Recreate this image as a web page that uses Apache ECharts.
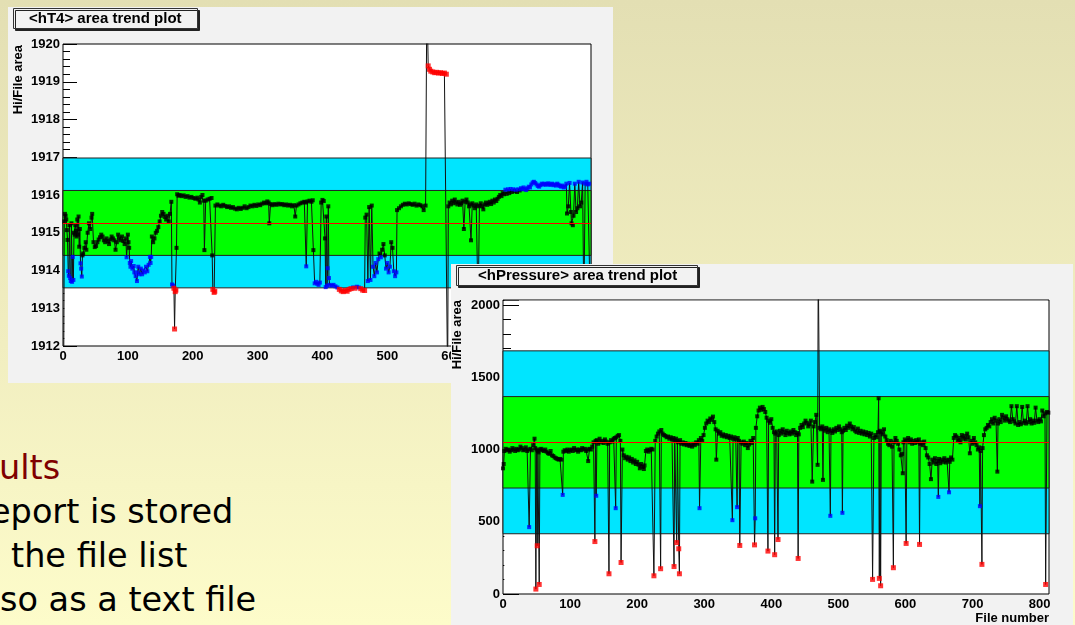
<!DOCTYPE html>
<html><head><meta charset="utf-8">
<script src="https://cdn.jsdelivr.net/npm/echarts@6.0.0/dist/echarts.min.js"></script>
<style>
html,body{margin:0;padding:0;}
#slide{position:relative;width:1075px;height:625px;overflow:hidden;background:linear-gradient(to bottom,#e3dfb3 0%,#f1eec0 55%,#fdfcca 100%);font-family:'DejaVu Sans',sans-serif;}
.txt{position:absolute;font-size:33.5px;line-height:44px;white-space:nowrap;color:#000;}
#c1{position:absolute;left:8px;top:7px;width:605px;height:376px;background:#f2f2f2;}
#c2{position:absolute;left:451px;top:264px;width:622px;height:361px;background:#f2f2f2;}
</style></head>
<body>
<div id="slide">
  <div class="txt" id="l0" style="left:-1px;top:446px;color:#7f0000"></div>
  <div class="txt" id="l1" style="left:-10px;top:490px"></div>
  <div class="txt" id="l2" style="left:11px;top:534px"></div>
  <div class="txt" id="l3" style="left:0px;top:578px"></div>
  <div id="c1"></div>
  <div id="c2"></div>
</div>
<script>
// ---------- data ----------
const slideLines = ['ults', 'eport is stored', 'the file list', 'so as a text file'];
const t4Title = '<hT4> area trend plot';
const prTitle = '<hPressure> area trend plot';
const yAxisName = 'Hi/File area';
const xAxisName = 'File number';
const fileMax = 814;
const t4Mean = 1915.26, t4Sigma = 0.86;
const prMean = 1050, prSigma = 316.5;

// [file number, Hi/File area]
const t4Points = [
[1,1911.0],[2,1915.30],[3,1915.50],[4,1915.45],[5,1915.35],[6,1915.07],[7,1914.81],[8,1913.98],[9,1913.86],[10,1915.20],
[11,1913.80],[12,1913.72],[13,1915.25],[14,1913.70],[15,1914.36],[16,1913.75],[17,1915.00],[18,1914.95],[19,1915.20],[20,1915.05],
[21,1914.90],[22,1915.35],[23,1914.95],[24,1915.43],[25,1914.63],[26,1915.10],[27,1914.19],[28,1914.05],[29,1913.84],[30,1914.40],
[31,1914.45],[33,1914.60],[35,1914.75],[36,1914.55],[38,1915.00],[40,1915.25],[42,1915.10],[44,1915.40],[45,1915.50],[47,1914.75],
[49,1914.62],[51,1914.65],[53,1914.75],[55,1914.82],[57,1914.88],[59,1914.95],[61,1914.90],[63,1914.80],[65,1914.75],[67,1914.85],
[69,1914.78],[71,1914.70],[73,1914.82],[75,1914.90],[77,1914.85],[79,1914.80],[81,1914.55],[83,1914.75],[85,1914.95],[87,1914.85],
[89,1914.80],[91,1914.90],[93,1914.78],[95,1914.70],[97,1914.85],[98,1914.35],[100,1914.95],[101,1914.75],[102,1914.60],[103,1914.20],
[104,1914.10],[105,1914.25],[107,1914.05],[109,1914.12],[110,1913.95],[112,1913.85],[114,1913.72],[115,1913.95],[116,1914.10],[118,1913.90],
[120,1914.05],[122,1913.90],[124,1914.00],[126,1913.95],[128,1914.10],[130,1913.98],[132,1914.15],[134,1914.36],[135,1914.20],[136,1914.36],
[137,1914.90],[139,1914.75],[141,1914.85],[143,1915.00],[145,1915.05],[147,1915.15],[149,1915.30],[151,1915.45],[153,1915.55],[155,1915.50],
[157,1915.42],[159,1915.35],[161,1915.45],[163,1915.30],[165,1915.50],[167,1915.82],[168,1913.63],[170,1913.60],[171,1913.53],[172,1912.45],
[173,1913.44],[174,1913.48],[175,1914.60],[176,1916.02],[178,1915.98],[180,1916.00],[183,1915.97],[186,1915.99],[189,1915.95],[192,1915.97],
[195,1915.93],[198,1915.95],[201,1915.92],[204,1915.90],[207,1915.93],[209,1915.88],[211,1915.80],[213,1915.95],[215,1916.00],[217,1915.85],
[218,1914.54],[220,1915.85],[223,1915.88],[226,1915.90],[229,1915.92],[230,1914.40],[231,1913.50],[233,1913.42],[234,1913.45],[235,1915.72],
[238,1915.75],[241,1915.72],[244,1915.70],[247,1915.74],[250,1915.71],[253,1915.68],[256,1915.70],[259,1915.66],[262,1915.68],[265,1915.64],
[268,1915.62],[271,1915.66],[274,1915.63],[277,1915.66],[280,1915.70],[283,1915.65],[286,1915.68],[289,1915.72],[292,1915.70],[295,1915.74],
[298,1915.71],[301,1915.75],[304,1915.73],[307,1915.77],[310,1915.80],[313,1915.78],[315,1915.83],[317,1915.80],[318,1915.25],[320,1915.76],
[323,1915.73],[326,1915.76],[329,1915.74],[332,1915.77],[335,1915.75],[338,1915.76],[341,1915.73],[344,1915.75],[347,1915.72],[350,1915.74],
[353,1915.70],[356,1915.73],[358,1915.43],[360,1915.72],[363,1915.75],[366,1915.78],[369,1915.80],[372,1915.82],[374,1915.80],[375,1914.11],
[377,1915.83],[380,1915.85],[383,1915.82],[385,1915.86],[386,1914.54],[388,1913.66],[390,1913.70],[392,1913.65],[394,1913.62],[396,1913.68],
[398,1915.80],[400,1915.87],[402,1915.84],[404,1914.85],[405,1913.56],[406,1915.43],[407,1913.60],[408,1914.06],[409,1915.70],[410,1913.80],
[411,1913.62],[414,1913.60],[417,1913.62],[420,1913.58],[423,1913.55],[426,1913.50],[429,1913.46],[432,1913.44],[435,1913.47],[438,1913.45],
[441,1913.50],[444,1913.52],[447,1913.55],[450,1913.53],[453,1913.57],[456,1913.55],[459,1913.52],[462,1913.48],[465,1913.47],[466,1915.40],
[468,1915.48],[470,1913.72],[472,1915.68],[474,1913.75],[476,1915.72],[478,1914.10],[480,1913.85],[482,1914.20],[484,1913.95],[486,1914.30],
[488,1914.45],[490,1914.35],[492,1914.55],[494,1914.70],[496,1914.40],[498,1914.05],[500,1914.20],[502,1913.95],[504,1914.10],[506,1914.75],
[508,1914.60],[510,1913.98],[512,1913.85],[514,1913.95],[515,1915.60],[518,1915.65],[521,1915.70],[524,1915.74],[527,1915.77],[530,1915.75],
[533,1915.78],[536,1915.76],[539,1915.74],[542,1915.77],[545,1915.72],[548,1915.75],[551,1915.73],[554,1915.70],[556,1915.60],[559,1915.72],
[561,1921.5],[563,1919.42],[565,1919.33],[567,1919.28],[570,1919.26],[573,1919.24],[576,1919.25],[579,1919.23],[582,1919.24],[585,1919.22],
[588,1919.23],[591,1919.20],[593,1911.0],[594,1915.70],[596,1915.80],[598,1915.75],[600,1915.85],[602,1915.78],[604,1915.88],[606,1915.80],
[608,1915.75],[610,1915.82],[612,1915.74],[614,1915.78],[616,1915.85],[618,1915.10],[620,1915.82],[622,1915.88],[624,1915.80],[626,1915.70],
[628,1915.75],[629,1914.80],[631,1915.78],[633,1915.72],[635,1915.65],[637,1915.75],[639,1915.70],[640,1913.0],[642,1915.72],[644,1915.78],
[646,1915.70],[648,1915.62],[650,1915.75],[652,1915.80],[654,1915.74],[656,1915.78],[658,1915.82],[660,1915.76],[662,1915.85],[664,1915.80],
[666,1915.88],[668,1915.84],[670,1915.90],[672,1915.95],[674,1916.00],[676,1915.97],[678,1916.05],[680,1916.02],[682,1916.14],[684,1916.03],
[686,1916.15],[688,1916.05],[690,1916.16],[692,1916.08],[694,1916.15],[696,1916.10],[698,1916.14],[700,1916.08],[702,1916.15],[704,1916.12],
[706,1916.18],[708,1916.15],[710,1916.20],[712,1916.16],[714,1916.13],[716,1916.18],[718,1916.22],[720,1916.20],[722,1916.28],[724,1916.33],
[726,1916.35],[728,1916.32],[730,1916.28],[732,1916.24],[734,1916.22],[736,1916.26],[738,1916.30],[740,1916.28],[742,1916.30],[744,1916.27],
[746,1916.29],[748,1916.31],[750,1916.27],[752,1916.28],[754,1916.30],[756,1916.26],[758,1916.28],[760,1916.25],[762,1916.30],[764,1916.27],
[766,1916.24],[768,1916.22],[770,1916.25],[772,1916.20],[774,1916.22],[776,1916.30],[777,1915.51],[779,1915.70],[781,1916.32],[783,1915.55],
[784,1915.25],[786,1915.20],[787,1915.45],[789,1916.30],[791,1915.55],[793,1915.65],[795,1916.35],[797,1915.70],[799,1915.80],[801,1916.33],
[803,1913.0],[805,1916.30],[807,1916.35],[809,1916.28],[811,1916.30],[813,1913.0]
];

const prPoints = [
[0,870],[1,900],[2,990],[4,1005],[6,995],[8,1000],[10,985],[12,995],[14,1010],[16,1000],
[18,990],[20,1005],[22,995],[24,1000],[26,1020],[28,1010],[30,995],[32,1000],[34,1015],[36,990],
[38,1000],[39,463],[41,1005],[43,995],[45,1030],[47,1075],[48,1010],[49,34],[50,1000],[51,334],
[52,990],[53,980],[54,66],[55,1000],[57,1005],[59,995],[61,990],[63,1000],[65,985],[67,975],
[69,970],[71,990],[73,960],[75,955],[77,945],[79,940],[81,935],[83,930],[85,935],[87,930],
[89,686],[90,985],[92,995],[94,990],[96,1000],[98,985],[100,995],[102,1000],[104,990],[106,1010],
[108,995],[110,1000],[112,985],[114,1000],[116,995],[118,1010],[120,1000],[122,1005],[124,990],[126,1000],
[127,920],[129,1005],[131,1000],[133,1020],[135,1050],[137,363],[138,1060],[139,680],[140,1065],[142,1040],
[144,1075],[146,1050],[148,1060],[150,1045],[152,1070],[154,1055],[156,1040],[158,140],[159,1050],[161,1065],
[163,1055],[165,1075],[167,1080],[168,594],[169,1085],[171,1095],[173,1100],[175,1060],[176,218],[178,1000],
[180,960],[182,940],[184,950],[186,930],[188,945],[190,920],[192,935],[194,910],[196,925],[198,900],
[200,915],[202,895],[204,870],[206,900],[208,880],[210,865],[211,890],[213,990],[215,1000],[217,985],
[219,995],[221,1005],[223,1000],[225,126],[227,1060],[229,1090],[231,1110],[233,1125],[235,175],[236,1135],
[238,1110],[240,1100],[242,1095],[244,1085],[246,1090],[248,1075],[250,1085],[252,1070],[254,1080],[255,190],
[256,1065],[258,1075],[259,356],[260,1060],[261,1050],[262,313],[263,140],[264,1065],[266,1040],[268,1050],
[270,1035],[272,1045],[274,1030],[276,1040],[278,1025],[280,1035],[282,1020],[284,1040],[286,1030],[288,1050],
[290,1040],[292,1065],[293,594],[295,1080],[297,1060],[299,1100],[301,1150],[303,1180],[305,1200],[307,1190],
[309,1215],[311,1205],[313,1228],[315,1190],[317,1140],[318,930],[320,1130],[322,1110],[324,1120],[326,1095],
[328,1105],[330,1090],[332,1100],[334,1085],[336,1095],[338,1080],[340,1090],[342,511],[343,1075],[345,1085],
[347,1070],[349,601],[350,1080],[352,1060],[353,336],[355,1050],[357,1040],[359,1055],[361,1030],[363,1045],
[365,1010],[367,1035],[369,1060],[371,1045],[373,1080],[375,340],[376,524],[377,1150],[379,1230],[381,1270],
[383,1290],[385,1275],[387,1295],[389,1280],[391,1260],[393,1220],[395,297],[396,1200],[398,1185],[400,1210],
[402,1150],[404,1120],[405,272],[406,1110],[408,1125],[410,377],[411,1100],[413,1130],[415,1110],[417,1140],
[419,1120],[421,1100],[423,1130],[425,1115],[427,1105],[429,1125],[431,1110],[433,1135],[435,1120],[437,1100],
[439,1115],[440,246],[441,1105],[443,1150],[445,1170],[447,1155],[449,1180],[451,1200],[453,1185],[455,1160],
[457,1175],[459,1200],[461,778],[463,1160],[465,1190],[467,1240],[469,894],[470,2300],[471,2300],[472,1150],
[474,1140],[476,1160],[477,790],[478,1145],[480,1130],[482,1150],[484,1120],[486,1140],[488,541],[489,1130],
[491,1115],[493,1140],[495,1125],[497,1150],[499,1135],[501,1160],[503,1140],[505,1120],[506,562],[507,1130],
[509,1150],[511,1135],[513,1165],[515,1150],[517,1180],[519,1160],[521,1140],[523,1155],[525,1130],[527,1120],
[529,1145],[531,1115],[533,1130],[535,1110],[537,1125],[539,1105],[541,1120],[543,1100],[545,1115],[547,1090],
[549,1110],[551,101],[553,1080],[555,1100],[557,1085],[559,1120],[560,1355],[561,108],[562,1130],[563,57],
[564,1120],[566,1105],[568,1140],[570,1090],[572,1065],[574,1040],[576,1030],[578,1060],[580,1020],[582,182],
[583,1050],[585,1080],[587,1060],[589,1040],[591,1000],[593,960],[595,970],[596,836],[597,1050],[599,1070],
[601,350],[602,1060],[604,1080],[606,1050],[608,1070],[610,1040],[612,1060],[614,1045],[616,1065],[618,1050],
[620,1070],[621,343],[622,1040],[624,1050],[626,1030],[628,1055],[630,1010],[632,960],[634,945],[636,900],
[638,795],[640,930],[642,910],[644,940],[646,900],[648,920],[649,672],[650,935],[652,905],[654,930],
[656,915],[658,940],[660,910],[662,925],[664,930],[665,704],[666,915],[668,945],[670,930],[672,1080],
[674,1100],[676,1090],[678,1060],[680,1080],[682,1050],[684,1100],[686,1075],[688,1095],[690,1070],[692,1110],
[694,1085],[696,974],[698,1060],[700,1040],[702,1080],[704,1050],[706,1030],[708,1000],[710,1015],[711,608],
[712,990],[714,205],[715,1010],[717,1100],[719,1140],[721,1150],[723,1170],[725,1160],[727,1190],[729,1210],
[731,1180],[733,1220],[735,1200],[737,847],[738,1180],[740,1210],[742,1190],[744,1240],[746,1220],[748,1200],
[750,1230],[752,1210],[754,1200],[756,1190],[758,1300],[760,1210],[762,1195],[764,1180],[766,1300],[768,1170],
[770,1190],[772,1175],[774,1295],[776,1185],[778,1200],[780,1180],[782,1300],[784,1190],[786,1210],[788,1180],
[790,1200],[792,1185],[794,1290],[796,1200],[798,1190],[800,1210],[802,1195],[804,1270],[806,1230],[808,1250],
[809,66],[811,1260],[813,1255]
];

// ---------- rendering ----------
slideLines.forEach((s, i) => { document.getElementById('l' + i).textContent = s; });

const FONT = "'Liberation Sans', Arial, Helvetica, sans-serif";

function makeOption(c) {
  const lo1 = c.mean - c.sigma, hi1 = c.mean + c.sigma;
  const lo2 = c.mean - 2 * c.sigma, hi2 = c.mean + 2 * c.sigma;
  const groups = { black: [], blue: [], red: [] };
  c.points.forEach(p => {
    const d = Math.abs(p[1] - c.mean);
    groups[d > 2 * c.sigma ? 'red' : (d > c.sigma ? 'blue' : 'black')].push(p);
  });
  const labelStyle = { color: '#000', fontFamily: FONT, fontWeight: 'bold', fontSize: 13 };
  const areas = [
    [{ coord: [c.xPad, c.yMin + c.yPad], itemStyle: { color: '#ffffff', borderWidth: 0 } }, { coord: [fileMax - c.xPad, lo2] }],
    [{ coord: [0, lo2], itemStyle: { color: '#00e5ff', borderColor: '#222', borderWidth: 1 } }, { coord: [fileMax, hi2] }],
    [{ coord: [0, lo1], itemStyle: { color: '#00ff00', borderColor: '#222', borderWidth: 1 } }, { coord: [fileMax, hi1] }]
  ];
  if (c.topCover) {
    areas.unshift([{ coord: [c.xPad, c.topCover[0]], itemStyle: { color: '#ffffff', borderWidth: 0 } }, { coord: [fileMax - c.xPad, c.topCover[1]] }]);
  }
  const graphics = [{
    type: 'text', x: c.yNameX, y: c.yNameY, rotation: Math.PI / 2, z: 10,
    style: { text: yAxisName, font: "bold 13px " + FONT, fill: '#000', align: 'right', verticalAlign: 'middle', textAlign: 'right', textVerticalAlign: 'middle' }
  }];
  if (c.xName) {
    graphics.push({
      type: 'text', x: c.xNameX, y: c.xNameY, z: 10,
      style: { text: c.xName, font: "bold 13px " + FONT, fill: '#000', align: 'right', verticalAlign: 'middle', textAlign: 'right', textVerticalAlign: 'middle' }
    });
  }
  return {
    animation: false,
    title: {
      text: c.title, left: c.titleLeft, top: c.titleTop, padding: c.titlePad,
      backgroundColor: '#f2f2f2', borderColor: '#333', borderWidth: 1,
      shadowColor: '#222', shadowOffsetX: 2, shadowOffsetY: 2, shadowBlur: 0,
      textStyle: { fontFamily: FONT, fontWeight: 'bold', fontSize: 15, lineHeight: 15, color: '#000' }
    },
    grid: {
      left: c.grid[0], top: c.grid[1], right: c.grid[2], bottom: c.grid[3],
      show: true, backgroundColor: '#ffffff', borderColor: '#000', borderWidth: 1,
      containLabel: false, outerBoundsMode: 'none'
    },
    xAxis: {
      type: 'value', min: 0, max: fileMax, interval: 100,
      axisLine: { show: false }, axisTick: { show: false }, splitLine: { show: false },
      axisLabel: Object.assign({ margin: 4, formatter: v => (v % 100 === 0 ? String(v) : '') }, labelStyle)
    },
    yAxis: {
      type: 'value', min: c.yMin, max: c.yMax, interval: c.yInterval,
      axisLine: { show: false },
      axisTick: { show: true, inside: true, length: c.tickLen, lineStyle: { color: '#000', width: 1 } },
      minorTick: { show: true, splitNumber: 5, length: c.minorLen, lineStyle: { color: '#000', width: 1 } },
      splitLine: { show: false }, minorSplitLine: { show: false },
      axisLabel: Object.assign({ margin: 3, formatter: v => (v % c.yInterval === 0 ? String(v) : '') }, labelStyle)
    },
    graphic: graphics,
    series: [
      {
        type: 'line', data: c.points, z: 1, silent: true, showSymbol: false, symbol: 'none',
        lineStyle: { opacity: 0, width: 0 },
        markArea: { silent: true, data: areas },
        markLine: {
          silent: true, symbol: 'none', label: { show: false },
          lineStyle: { color: '#ff0000', width: 1, type: 'solid' },
          data: [{ yAxis: c.mean }]
        }
      },
      {
        type: 'line', data: c.points, z: 3, silent: true, showSymbol: false, symbol: 'none', clip: true,
        lineStyle: { color: '#111', width: 1 }
      },
      { type: 'scatter', data: groups.black, z: 4, silent: true, symbol: 'rect', symbolSize: 4, itemStyle: { color: '#000' }, clip: true },
      { type: 'scatter', data: groups.blue, z: 5, silent: true, symbol: 'rect', symbolSize: 4, itemStyle: { color: '#0000ff' }, clip: true },
      { type: 'scatter', data: groups.red, z: 6, silent: true, symbol: 'rect', symbolSize: 5, itemStyle: { color: '#ff0000' }, clip: true }
    ]
  };
}

const chart1 = echarts.init(document.getElementById('c1'), null, { renderer: 'canvas' });
chart1.setOption(makeOption({
  title: t4Title, titleLeft: 5, titleTop: 1, titlePad: [3, 16, 3, 16],
  grid: [55, 37, 22, 37],
  points: t4Points, mean: t4Mean, sigma: t4Sigma,
  yMin: 1912, yMax: 1920, yInterval: 1, tickLen: 14, minorLen: 7,
  xPad: 2, yPad: 0.03,
  yNameX: 10, yNameY: 38
}));

const chart2 = echarts.init(document.getElementById('c2'), null, { renderer: 'canvas' });
chart2.setOption(makeOption({
  title: prTitle, titleLeft: 5, titleTop: 1, titlePad: [3, 21, 3, 22],
  grid: [52, 36, 24, 31],
  points: prPoints, mean: prMean, sigma: prSigma,
  yMin: 0, yMax: 2035, yInterval: 500, tickLen: 16, minorLen: 8,
  xPad: 2, yPad: 7, topCover: [2003, 2030],
  yNameX: 6, yNameY: 36,
  xName: xAxisName, xNameX: 598, xNameY: 354
}));
</script>
</body></html>
